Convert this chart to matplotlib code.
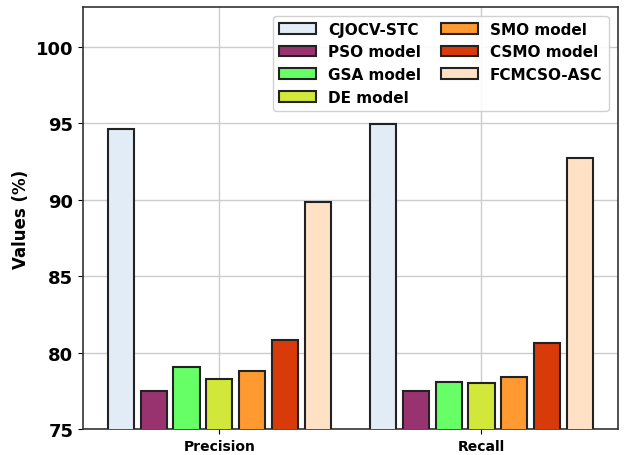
import matplotlib
matplotlib.use('Agg')
import matplotlib.pyplot as plt
import numpy as np

metrics = ['Precision', 'Recall']
models = ['CJOCV-STC', 'PSO model', 'GSA model', 'DE model',
          'SMO model', 'CSMO model', 'FCMCSO-ASC']
precision = [94.6, 77.5, 79.05, 78.3, 78.8, 80.85, 89.85]
recall = [94.95, 77.5, 78.05, 78.0, 78.4, 80.6, 92.75]
colors = ['#e1ecf6', '#993370', '#66ff66', '#d1e83a',
          '#ff9a30', '#d93a0a', '#ffe2c6']

fig = plt.figure(figsize=(6.24, 4.56), dpi=100)
ax = fig.add_axes([0.133, 0.057, 0.857, 0.925])

x = np.arange(len(metrics))
step = 0.125
width = 0.1
for i, (name, c) in enumerate(zip(models, colors)):
    vals = [precision[i], recall[i]]
    ax.bar(x + (i - 3) * step, vals, width, color=c, edgecolor='#222222',
           linewidth=1.5, label=name, zorder=3)

ax.set_xticks(x)
ax.set_xticklabels(metrics, fontweight='bold', fontsize=10)
ax.set_xlim(-0.52, 1.52)
ax.set_ylim(75, 102.6)
ax.set_yticks([75, 80, 85, 90, 95, 100])
for lab in ax.get_yticklabels():
    lab.set_fontweight('bold')
    lab.set_fontsize(13)
ax.set_ylabel('Values (%)', fontweight='bold', fontsize=12)
ax.grid(True, color='#cccccc', linewidth=1, zorder=0)
ax.set_axisbelow(True)
for s in ax.spines.values():
    s.set_color('#333333')
    s.set_linewidth(1.2)

ax.legend(ncol=2, loc='upper right', bbox_to_anchor=(0.997, 0.998),
          prop={'weight': 'bold', 'size': 11},
          handlelength=2.4, columnspacing=1.3, labelspacing=0.5,
          framealpha=0.9)

fig.savefig('out.png', dpi=100, facecolor='white')
